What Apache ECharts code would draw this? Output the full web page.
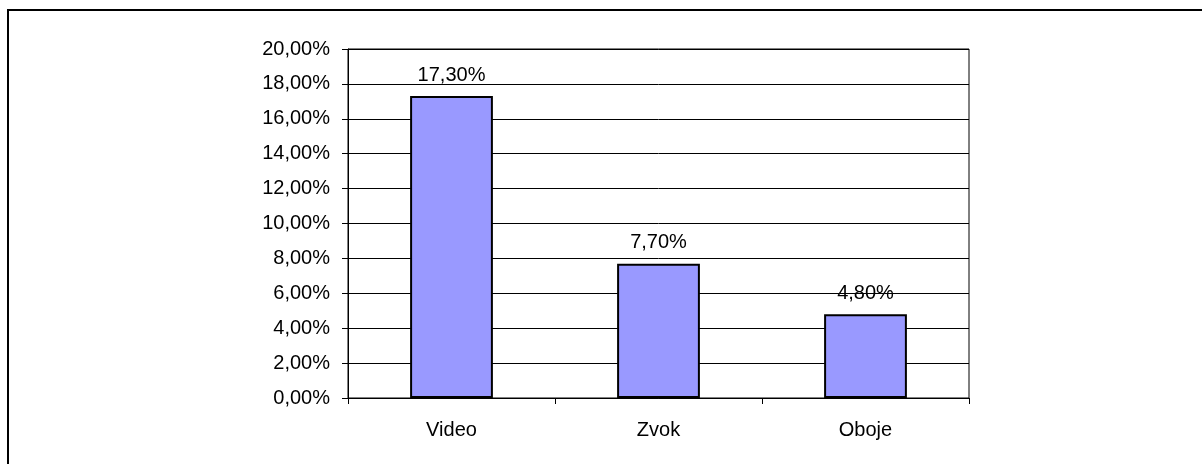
<!DOCTYPE html>
<html>
<head>
<meta charset="utf-8">
<script src="https://cdn.jsdelivr.net/npm/echarts@6/dist/echarts.min.js"></script>
<style>
  html, body { margin: 0; padding: 0; background: #fff; }
  #chart { width: 1202px; height: 464px; }
</style>
</head>
<body>
<div id="chart"></div>
<script>
// Share of respondents by media type (percent)
const categories = ['Video', 'Zvok', 'Oboje'];
const shares = [17.3, 7.7, 4.8];
const yTicks = { min: 0, max: 20, step: 2 };

const pct = v => v.toFixed(2).replace('.', ',') + '%';
const font = 'Liberation Sans, Arial, sans-serif';

const chart = echarts.init(document.getElementById('chart'), null, { renderer: 'canvas' });
chart.setOption({
  animation: false,
  backgroundColor: '#fff',
  graphic: [{
    type: 'rect',
    shape: { x: 8, y: 10, width: 1400, height: 800 },
    style: { fill: 'none', stroke: '#000', lineWidth: 2 },
    silent: true
  }],
  grid: {
    left: 348, right: 233, top: 49, bottom: 66,
    show: true, borderColor: '#000', borderWidth: 1, backgroundColor: 'transparent'
  },
  xAxis: {
    type: 'category',
    data: categories,
    boundaryGap: true,
    axisLine: { lineStyle: { color: '#000', width: 1 } },
    axisTick: { show: true, alignWithLabel: false, length: 6, lineStyle: { color: '#000' } },
    axisLabel: { color: '#000', fontSize: 20, fontFamily: font, margin: 22 }
  },
  yAxis: {
    type: 'value',
    min: yTicks.min, max: yTicks.max, interval: yTicks.step,
    axisLine: { show: true, lineStyle: { color: '#000', width: 1 } },
    axisTick: { show: true, length: 6, lineStyle: { color: '#000' } },
    axisLabel: { color: '#000', fontSize: 20, fontFamily: font, margin: 18, formatter: pct },
    splitLine: { show: true, lineStyle: { color: '#000', width: 1 } }
  },
  series: [{
    type: 'bar',
    data: shares,
    barWidth: '40%',
    itemStyle: { color: '#9999FF', borderColor: '#000', borderWidth: 2 },
    label: {
      show: true, position: 'top', distance: 11,
      color: '#000', fontSize: 20, fontFamily: font,
      formatter: p => pct(p.value)
    }
  }]
});
</script>
</body>
</html>
